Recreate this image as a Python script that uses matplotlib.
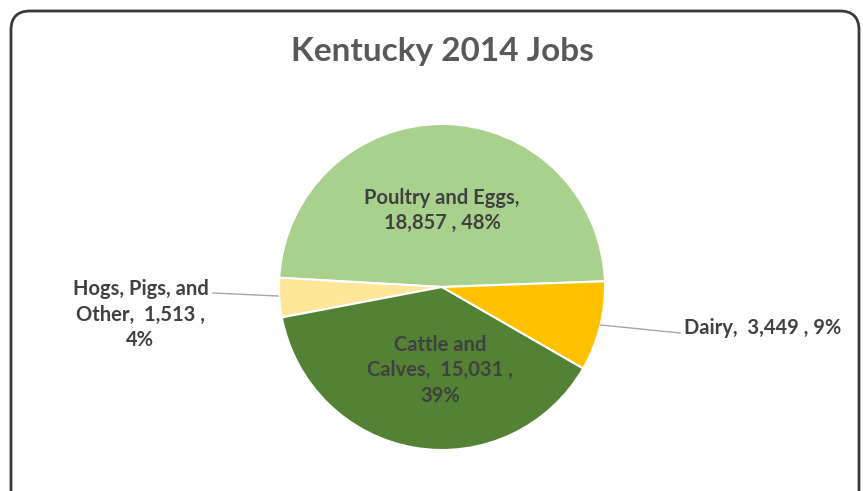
import matplotlib.pyplot as plt
from matplotlib.patches import FancyBboxPatch
import numpy as np

# Kentucky 2014 agricultural jobs by sector
sectors = ["Poultry and Eggs", "Hogs, Pigs, and Other", "Cattle and Calves", "Dairy"]
jobs = [18857, 1513, 15031, 3449]
colors = ["#A9D18E", "#FFE699", "#548235", "#FFC000"]

label_texts = [
    "Poultry and Eggs,\n18,857 , 48%",
    "Hogs, Pigs, and\nOther,  1,513 ,\n4%",
    "Cattle and\nCalves,  15,031 ,\n39%",
    "Dairy,  3,449 , 9%",
]

plt.rcParams['font.family'] = ['Lato', 'DejaVu Sans']

W, H = 863, 491
fig = plt.figure(figsize=(W / 100, H / 100), dpi=100)

# rounded chart frame, kept behind the pie
frame = FancyBboxPatch((11 / W, -20 / H), 848 / W, 500 / H,
                       boxstyle="round,pad=0,rounding_size=0.022",
                       transform=fig.transFigure, facecolor="none",
                       edgecolor="#3a3a3a", linewidth=2.0, mutation_aspect=W / H,
                       zorder=-1)
fig.patches.append(frame)

fig.text(442 / W, 1 - 51 / H, "Kentucky 2014 Jobs", ha="center", va="center",
         fontsize=24, fontweight="bold", color="#595959")

cx, cy, r = 442, 287, 163
ax = fig.add_axes([(cx - r) / W, (H - cy - r) / H, 2 * r / W, 2 * r / H])
wedges, _ = ax.pie(jobs, colors=colors, startangle=2, counterclock=True,
                   wedgeprops=dict(edgecolor="white", linewidth=1.5))
ax.set_xlim(-1, 1)
ax.set_ylim(-1, 1)
ax.set_aspect("equal")
ax.axis("off")

txt = dict(fontsize=14.5, fontweight="bold", color="#404040", ha="center",
           va="center", linespacing=1.35)

# inside labels
ax.text(0.0, 0.47, label_texts[0], **txt)
ax.text(-0.01, -0.51, label_texts[2], **txt)

# outside labels with leader lines
ax.text(-1.85, -0.17, label_texts[1], clip_on=False, **txt)
ax.plot([(213 - cx) / r, (278 - cx) / r], [(cy - 293) / r, (cy - 296) / r],
        color="#A6A6A6", linewidth=1, clip_on=False)

d = dict(txt)
d["ha"] = "left"
ax.text((684 - cx) / r, (cy - 328) / r, label_texts[3], clip_on=False, **d)
ax.plot([(601 - cx) / r, (680 - cx) / r], [(cy - 325) / r, (cy - 333) / r],
        color="#A6A6A6", linewidth=1, clip_on=False)

fig.savefig("out.png", dpi=100)
